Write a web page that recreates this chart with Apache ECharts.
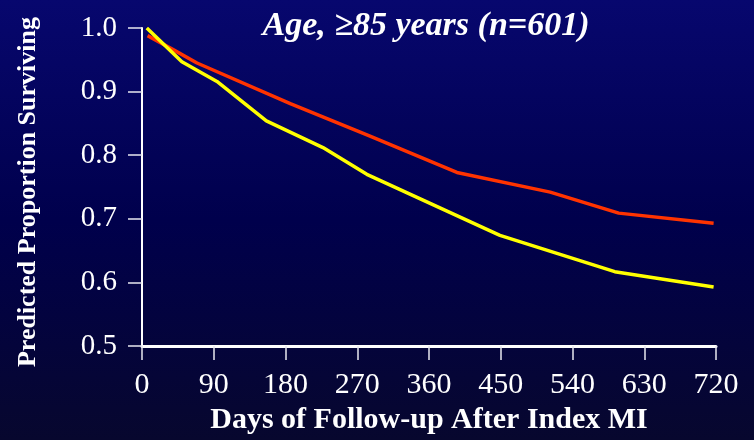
<!DOCTYPE html>
<html>
<head>
<meta charset="utf-8">
<script src="https://cdn.jsdelivr.net/npm/echarts@6/dist/echarts.min.js"></script>
<style>
  html, body { margin: 0; padding: 0; }
  #chart { width: 754px; height: 440px; }
</style>
</head>
<body>
<div id="chart"></div>
<script>
// Predicted survival curves, age >= 85 years
const titleText = 'Age, \u226585 years (n=601)';
const xAxisName = 'Days of Follow-up After Index MI';
const yAxisName = 'Predicted Proportion Surviving';

// x tick values (days)
const xTicks = [0, 90, 180, 270, 360, 450, 540, 630, 720];

// Red curve: [day, proportion surviving]
const redDays   = [7, 39, 69, 186, 286, 395, 512, 598, 717];
const redValues = [0.988, 0.966, 0.945, 0.881, 0.830, 0.773, 0.742, 0.709, 0.693];

// Yellow curve: [day, proportion surviving]
const yellowDays   = [6, 50, 94, 156, 227, 282, 449, 593, 717];
const yellowValues = [1.000, 0.947, 0.916, 0.854, 0.812, 0.770, 0.674, 0.617, 0.593];

const zip = (xs, ys) => xs.map((x, i) => [x, ys[i]]);

const serif = '"Liberation Serif", "Times New Roman", serif';
const chart = echarts.init(document.getElementById('chart'));

chart.setOption({
  backgroundColor: {
    type: 'linear', x: 0, y: 0, x2: 0, y2: 1,
    colorStops: [
      { offset: 0, color: '#07076e' },
      { offset: 0.5, color: '#00004c' },
      { offset: 1, color: '#07072e' }
    ]
  },
  animation: false,
  title: {
    text: titleText,
    left: 421,
    top: 4,
    textAlign: 'center',
    textStyle: {
      color: '#ffffff',
      fontFamily: serif,
      fontSize: 34,
      fontWeight: 'bold',
      fontStyle: 'italic'
    }
  },
  grid: { left: 142, right: 38, top: 28, bottom: 92 },
  xAxis: {
    type: 'value',
    min: 0,
    max: 720,
    interval: 90,
    name: xAxisName,
    nameLocation: 'middle',
    nameGap: 54,
    nameTextStyle: {
      color: '#ffffff',
      fontFamily: serif,
      fontSize: 30,
      fontWeight: 'bold'
    },
    axisLine: { show: true, lineStyle: { color: '#ffffff', width: 3 } },
    axisTick: { show: true, length: 14, lineStyle: { color: '#e8e8f0', width: 1.5 } },
    axisLabel: {
      color: '#ffffff',
      fontFamily: serif,
      fontSize: 30,
      margin: 24,
      formatter: v => (xTicks.includes(v) ? String(v) : '')
    },
    splitLine: { show: false }
  },
  yAxis: {
    type: 'value',
    min: 0.5,
    max: 1.0,
    interval: 0.1,
    name: yAxisName,
    nameLocation: 'middle',
    nameGap: 101,
    nameTextStyle: {
      color: '#ffffff',
      fontFamily: serif,
      fontSize: 26,
      fontWeight: 'bold',
      padding: [0, 10, 0, 0]
    },
    axisLine: { show: true, lineStyle: { color: '#ffffff', width: 2 } },
    axisTick: { show: true, length: 14, lineStyle: { color: '#e8e8f0', width: 1.5 } },
    axisLabel: {
      color: '#ffffff',
      fontFamily: serif,
      fontSize: 29,
      margin: 25,
      formatter: v => v.toFixed(1)
    },
    splitLine: { show: false }
  },
  series: [
    {
      type: 'line',
      data: zip(redDays, redValues),
      showSymbol: false,
      lineStyle: { color: '#ff3300', width: 3.5 },
      z: 3
    },
    {
      type: 'line',
      data: zip(yellowDays, yellowValues),
      showSymbol: false,
      lineStyle: { color: '#ffff00', width: 3.5 },
      z: 4
    }
  ]
});
</script>
</body>
</html>
